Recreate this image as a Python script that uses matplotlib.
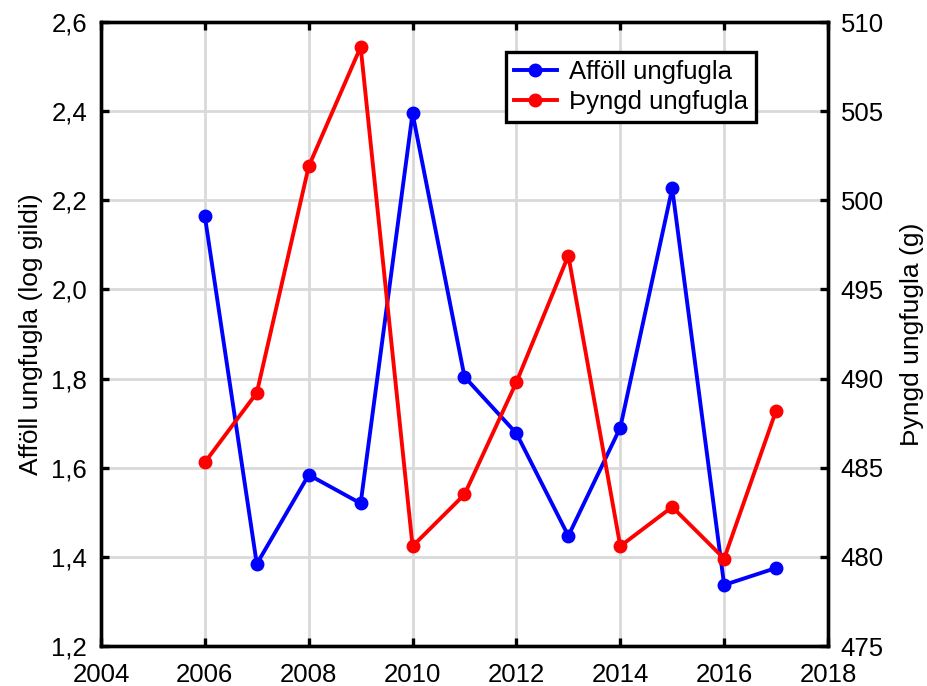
import matplotlib.pyplot as plt
from matplotlib.ticker import FuncFormatter

plt.rcParams['font.family'] = ['Liberation Sans', 'DejaVu Sans']

years = [2006, 2007, 2008, 2009, 2010, 2011, 2012, 2013, 2014, 2015, 2016, 2017]
affoll = [2.164, 1.384, 1.584, 1.520, 2.395, 1.804, 1.677, 1.447, 1.690, 2.227, 1.337, 1.375]
thyngd = [485.3, 489.2, 501.9, 508.6, 480.6, 483.5, 489.8, 496.9, 480.6, 482.8, 479.9, 488.2]

fig = plt.figure(figsize=(9.28, 6.86), dpi=100)
ax = fig.add_axes([101/928, 1 - 646/686, 727/928, 624/686])
ax2 = ax.twinx()

l1, = ax.plot(years, affoll, '-o', color='blue', lw=2.8, ms=9, label='Afföll ungfugla')
l2, = ax2.plot(years, thyngd, '-o', color='red', lw=2.8, ms=9, label='Þyngd ungfugla')

ax.set_xlim(2004, 2018)
ax.set_ylim(1.2, 2.6)
ax2.set_ylim(475, 510)
ax.set_xticks(range(2004, 2019, 2))
ax.set_yticks([1.2, 1.4, 1.6, 1.8, 2.0, 2.2, 2.4, 2.6])
ax2.set_yticks(range(475, 511, 5))
ax.yaxis.set_major_formatter(FuncFormatter(lambda v, p: f'{v:.1f}'.replace('.', ',')))

ax.grid(True, color='#d9d9d9', lw=2)
ax.set_axisbelow(True)

ax.tick_params(axis='x', direction='in', top=True, length=6, width=2.4, labelsize=18.5, pad=12)
ax.tick_params(axis='y', direction='in', length=6, width=2.4, labelsize=18.5, pad=10)
ax2.tick_params(axis='y', direction='in', length=6, width=2.4, labelsize=18.5, pad=9)
for a in (ax, ax2):
    for s in a.spines.values():
        s.set_linewidth(2.4)

ax.set_ylabel('Afföll ungfugla (log gildi)', fontsize=19, labelpad=6)
ax2.set_ylabel('Þyngd ungfugla (g)', fontsize=19, labelpad=12)

leg = ax2.legend(handles=[l1, l2], loc='upper left', bbox_to_anchor=(0.557, 0.952),
                 fontsize=18.5, fancybox=False, edgecolor='black', framealpha=1,
                 borderpad=0.3, labelspacing=0.25, handlelength=1.7, handletextpad=0.45,
                 borderaxespad=0)
leg.get_frame().set_linewidth(2.4)

fig.savefig('out.png', dpi=100)
